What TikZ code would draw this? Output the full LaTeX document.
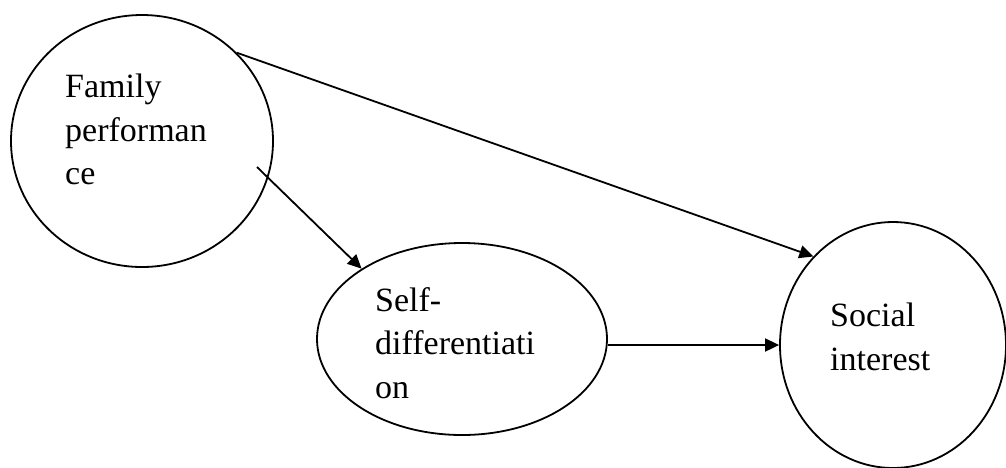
\documentclass[tikz,border=0pt]{standalone}
\usepackage{fontspec}
\setmainfont{Liberation Serif}
\usetikzlibrary{shapes.geometric,arrows.meta}

\tikzset{
  bubble/.style={draw, ellipse, line width=1.8pt, inner sep=0pt},
  lbl/.style={anchor=north west, inner sep=0pt, align=left,
              font=\fontsize{34}{43.5}\selectfont},
  arr/.style={line width=1.8pt, -{Triangle[length=14pt,width=13pt]}}
}

\begin{document}
\begin{tikzpicture}[x=1pt, y=-1pt]
  \useasboundingbox (0,0) rectangle (1006,467);

  % the three constructs
  \node[bubble, minimum width=262pt, minimum height=252pt] (fam)  at (142,141) {};
  \node[bubble, minimum width=290pt, minimum height=192pt] (self) at (462,339) {};
  \node[bubble, minimum width=226pt, minimum height=246pt] (soc)  at (893,345) {};

  % labels, broken as printed
  \node[lbl] (famtxt)  at (65,74)   {Family\\performan\\ce};
  \node[lbl] (selftxt) at (375,287) {Self-\\differentiati\\on};
  \node[lbl] (soctxt)  at (830,303) {Social\\interest};

  % paths
  \coordinate (famout) at (257,167);
  \draw[arr] (famout) -- (self.145.7);
  \draw[arr] (fam.43.7) -- (soc.132.9);
  \draw[arr] (self.east |- soc.west) -- (soc.west);
\end{tikzpicture}
\end{document}
